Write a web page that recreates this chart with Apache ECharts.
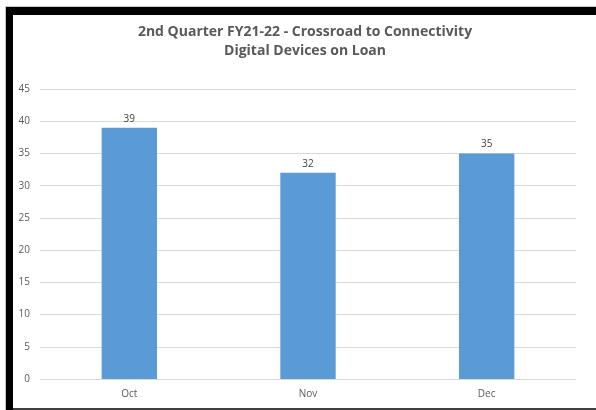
<!DOCTYPE html>
<html>
<head>
<meta charset="utf-8">
<script src="https://cdn.jsdelivr.net/npm/echarts@6/dist/echarts.min.js"></script>
<style>
  html, body { margin: 0; padding: 0; background: #fff; }
  #main { width: 596px; height: 410px; }
</style>
</head>
<body>
<div id="main"></div>
<script>
var months = ['Oct', 'Nov', 'Dec'];
var devices = [39, 32, 35];

var chart = echarts.init(document.getElementById('main'));

var option = {
    backgroundColor: '#fff',
    animation: false,
    title: {
        text: '2nd Quarter FY21-22 - Crossroad to Connectivity\nDigital Devices on Loan',
        left: 305,
        textAlign: 'center',
        top: 23,
        padding: 0,
        textStyle: {
            fontFamily: 'Open Sans',
            fontWeight: 'bold',
            fontSize: 14,
            lineHeight: 19,
            color: '#595959'
        }
    },
    grid: { left: 40, right: 20, top: 89, bottom: 31 },
    xAxis: {
        type: 'category',
        data: months,
        axisLine: { lineStyle: { color: '#d9d9d9' } },
        axisTick: { show: false },
        axisLabel: { color: '#595959', fontSize: 10, margin: 10, fontFamily: 'Open Sans' }
    },
    yAxis: {
        type: 'value',
        min: 0,
        max: 45,
        interval: 5,
        axisLine: { show: false },
        axisTick: { show: false },
        axisLabel: { color: '#595959', fontSize: 10, margin: 10, fontFamily: 'Open Sans' },
        splitLine: { lineStyle: { color: '#d9d9d9' } }
    },
    series: [{
        type: 'bar',
        data: devices,
        barWidth: '31%',
        itemStyle: { color: '#5b9bd5' },
        label: {
            show: true,
            position: 'top',
            distance: 4,
            color: '#404040',
            fontSize: 10,
            fontFamily: 'Open Sans'
        }
    }],
    graphic: [
        { type: 'rect', shape: { x: 5, y: 6, width: 591, height: 1 }, style: { fill: '#c8c8c8' } },
        { type: 'rect', shape: { x: 5, y: 6, width: 1, height: 404 }, style: { fill: '#c8c8c8' } },
        { type: 'rect', shape: { x: 6, y: 7, width: 590, height: 8 }, style: { fill: '#000' } },
        { type: 'rect', shape: { x: 6, y: 7, width: 7, height: 403 }, style: { fill: '#000' } },
        { type: 'rect', shape: { x: 13, y: 408, width: 583, height: 2 }, style: { fill: '#404040' } }
    ]
};

chart.setOption(option);
</script>
</body>
</html>
